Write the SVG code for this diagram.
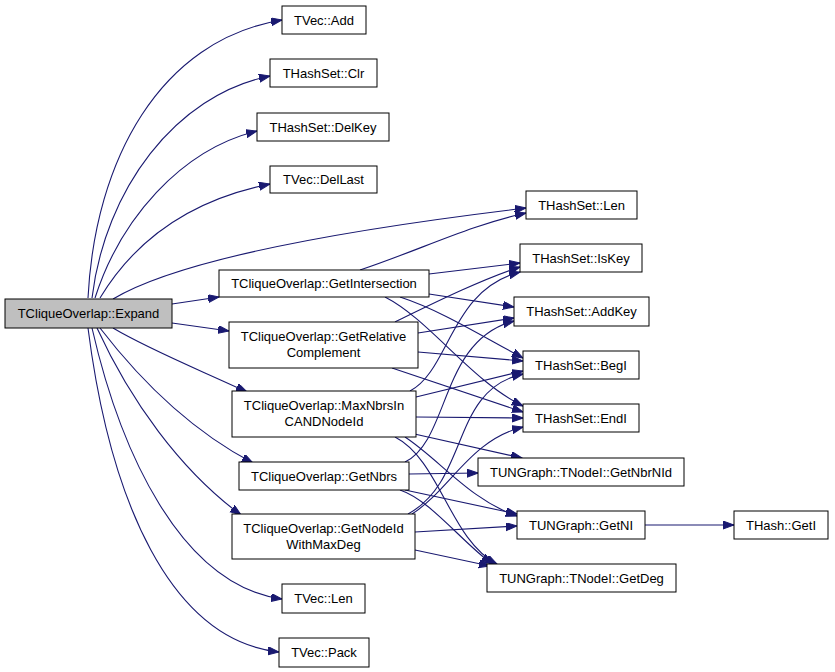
<svg xmlns="http://www.w3.org/2000/svg" width="835" height="672" viewBox="0 0 835 672">
<style>
.n rect{fill:#fff;stroke:#000;stroke-width:1}
.n.root rect{fill:#bfbfbf}
.n text{font-family:"Liberation Sans",Arial,sans-serif;font-size:13px;fill:#000;text-anchor:middle}
.e path{fill:none;stroke:#191970;stroke-width:1.1;marker-end:url(#ah)}
</style>
<defs>
<marker id="ah" markerUnits="userSpaceOnUse" markerWidth="12" markerHeight="9" refX="11" refY="4" orient="auto">
<path d="M0,0 L11,4 L0,8 z" fill="#191970" stroke="#191970" stroke-width="1"/>
</marker>
</defs>
<g id="edges" class="e">
<path d="M88,298 C95,160 160,40 282,20"/>
<path d="M92,298 C105,190 175,95 270,76"/>
<path d="M95,298 C120,220 180,150 257,131"/>
<path d="M100,298 C135,240 190,200 270,184"/>
<path d="M113,299 C170,265 300,235 526,208"/>
<path d="M172,304 L219,297"/>
<path d="M172,323 L229,331"/>
<path d="M113,328 C150,350 200,370 247,392"/>
<path d="M100,328 C140,380 190,430 253,463"/>
<path d="M97,328 C130,400 180,470 241,515"/>
<path d="M92,328 C120,450 180,585 282,599"/>
<path d="M88,328 C110,500 170,640 279,652"/>
<path d="M360,270 C420,250 470,225 526,213"/>
<path d="M429,274 L520,263"/>
<path d="M429,294 L514,307"/>
<path d="M400,297 C440,310 480,335 523,358"/>
<path d="M385,297 C430,320 470,380 523,406"/>
<path d="M395,322 C430,305 480,280 520,267"/>
<path d="M418,333 L514,318"/>
<path d="M418,352 L523,361"/>
<path d="M392,368 L523,412"/>
<path d="M410,391 C450,370 450,290 520,272"/>
<path d="M416,397 L523,371"/>
<path d="M416,417 L523,418"/>
<path d="M410,433 L522,458"/>
<path d="M405,437 C440,460 470,500 517,516"/>
<path d="M395,437 C440,460 450,540 497,564"/>
<path d="M405,462 C450,440 440,340 514,321"/>
<path d="M409,474 L478,473"/>
<path d="M405,490 L517,514"/>
<path d="M400,490 C430,500 460,540 492,564"/>
<path d="M408,514 C470,480 450,390 523,374"/>
<path d="M412,514 C450,490 470,440 523,427"/>
<path d="M415,532 L517,526"/>
<path d="M415,550 L490,566"/>
<path d="M645,525 L734,525"/>
</g>
<g id="expand" class="n root"><rect x="5" y="299" width="167" height="29"/><text x="88.5" y="318">TCliqueOverlap::Expand</text></g>
<g id="tvec_add" class="n"><rect x="282" y="6" width="84" height="28"/><text x="324" y="25">TVec::Add</text></g>
<g id="hs_clr" class="n"><rect x="270" y="59" width="107" height="28"/><text x="323.5" y="78">THashSet::Clr</text></g>
<g id="hs_delkey" class="n"><rect x="257" y="113" width="132" height="28"/><text x="323" y="132">THashSet::DelKey</text></g>
<g id="tvec_dellast" class="n"><rect x="270" y="166" width="107" height="27"/><text x="323.5" y="184">TVec::DelLast</text></g>
<g id="getintersection" class="n"><rect x="219" y="270" width="210" height="27"/><text x="324" y="288">TCliqueOverlap::GetIntersection</text></g>
<g id="getrelcomp" class="n"><rect x="229" y="322" width="189" height="46"/><text x="323.5" y="341">TCliqueOverlap::GetRelative</text><text x="323.5" y="357">Complement</text></g>
<g id="maxnbrs" class="n"><rect x="232" y="391" width="184" height="46"/><text x="324" y="410">TCliqueOverlap::MaxNbrsIn</text><text x="324" y="426">CANDNodeId</text></g>
<g id="getnbrs" class="n"><rect x="239" y="462" width="170" height="28"/><text x="324" y="481">TCliqueOverlap::GetNbrs</text></g>
<g id="getnodeid" class="n"><rect x="232" y="514" width="183" height="45"/><text x="323.5" y="533">TCliqueOverlap::GetNodeId</text><text x="323.5" y="549">WithMaxDeg</text></g>
<g id="tvec_len" class="n"><rect x="282" y="584" width="83" height="29"/><text x="323.5" y="603">TVec::Len</text></g>
<g id="tvec_pack" class="n"><rect x="279" y="638" width="90" height="29"/><text x="324" y="657">TVec::Pack</text></g>
<g id="hs_len" class="n"><rect x="526" y="191" width="111" height="28"/><text x="581.5" y="210">THashSet::Len</text></g>
<g id="hs_iskey" class="n"><rect x="520" y="244" width="122" height="28"/><text x="581" y="263">THashSet::IsKey</text></g>
<g id="hs_addkey" class="n"><rect x="514" y="297" width="135" height="29"/><text x="581.5" y="316">THashSet::AddKey</text></g>
<g id="hs_begi" class="n"><rect x="523" y="351" width="116" height="28"/><text x="581" y="370">THashSet::BegI</text></g>
<g id="hs_endi" class="n"><rect x="523" y="404" width="116" height="28"/><text x="581" y="423">THashSet::EndI</text></g>
<g id="getnbrnid" class="n"><rect x="478" y="458" width="206" height="28"/><text x="581" y="477">TUNGraph::TNodeI::GetNbrNId</text></g>
<g id="getni" class="n"><rect x="517" y="511" width="128" height="28"/><text x="581" y="530">TUNGraph::GetNI</text></g>
<g id="thash_geti" class="n"><rect x="734" y="511" width="94" height="28"/><text x="781" y="530">THash::GetI</text></g>
<g id="getdeg" class="n"><rect x="487" y="564" width="189" height="28"/><text x="581.5" y="583">TUNGraph::TNodeI::GetDeg</text></g>
</svg>
